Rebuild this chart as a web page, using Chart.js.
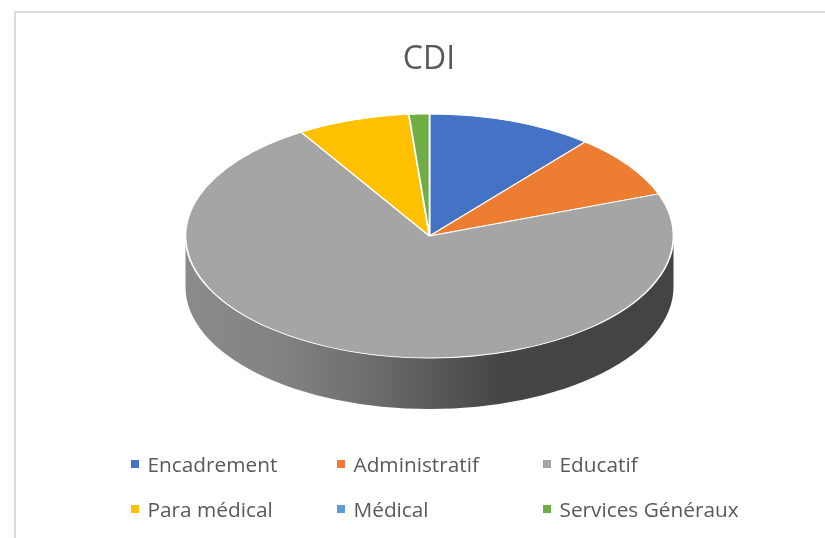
<!DOCTYPE html>
<html lang="fr">
<head>
<meta charset="utf-8">
<title>CDI</title>
<script src="https://cdn.jsdelivr.net/npm/chart.js@4"></script>
<style>
    html, body { margin: 0; padding: 0; background: #fff; }
    #cadre { position: relative; width: 825px; height: 538px; overflow: hidden; }
    #cadre canvas { position: absolute; left: 0; top: 0; }
    #bord { position: absolute; left: 14px; top: 11px; right: -4px; bottom: -4px; border: 2px solid #dcdcdc; }
    #legende {
        position: absolute; left: 131px; top: 441px;
        display: grid; grid-template-columns: repeat(3, 206px); grid-auto-rows: 45px;
        font: 20.8px "Open Sans", sans-serif; color: #595959; white-space: nowrap;
    }
    .item { display: flex; align-items: center; height: 45px; }
    .carre { width: 8px; height: 8px; margin-right: 8.5px; flex: none; }
</style>
</head>
<body>
<div id="cadre">
    <div id="bord"></div>
    <canvas id="chartCdi" width="825" height="538"></canvas>
    <div id="legende"></div>
</div>
<script>
const titre = 'CDI';
const categories = ['Encadrement', 'Administratif', 'Educatif', 'Para médical', 'Médical', 'Services Généraux'];
const valeurs = [11.0, 8.4, 71.8, 7.45, 0, 1.35];
const couleurs = ['#4472C4', '#ED7D31', '#A5A5A5', '#FFC000', '#5B9BD5', '#70AD47'];

// ellipse du dessus et epaisseur du camembert
const cx = 429.5, cy = 236, rx = 244, ry = 122, epaisseur = 51;

// ombrage du bord, de gauche a droite
const ombrage = [[0, 0.84], [0.2, 0.79], [0.38, 0.66], [0.55, 0.5], [0.65, 0.42], [1, 0.41]];

function assombrir(hex, f) {
    const n = parseInt(hex.slice(1), 16);
    const r = Math.round((n >> 16 & 255) * f);
    const g = Math.round((n >> 8 & 255) * f);
    const b = Math.round((n & 255) * f);
    return `rgb(${r},${g},${b})`;
}

const pie3d = {
    id: 'pie3d',
    beforeDatasetsDraw(chart) {
        const ctx = chart.ctx;
        const arcs = chart.getDatasetMeta(0).data;
        arcs.forEach((arc, i) => {
            const debut = Math.max(arc.startAngle, 0);
            const fin = Math.min(arc.endAngle, Math.PI);
            if (fin <= debut) return;
            const grad = ctx.createLinearGradient(cx - rx, 0, cx + rx, 0);
            ombrage.forEach(([pos, f]) => grad.addColorStop(pos, assombrir(couleurs[i], f)));
            ctx.beginPath();
            ctx.ellipse(cx, cy + epaisseur, rx, ry, 0, debut, fin);
            ctx.ellipse(cx, cy, rx, ry, 0, fin, debut, true);
            ctx.closePath();
            ctx.fillStyle = grad;
            ctx.fill();
        });
        // la tarte plate de Chart.js est ecrasee en ellipse
        const a = arcs[0];
        ctx.save();
        ctx.translate(cx, cy);
        ctx.scale(rx / a.outerRadius, ry / a.outerRadius);
        ctx.translate(-a.x, -a.y);
    },
    afterDatasetsDraw(chart) {
        chart.ctx.restore();
    }
};

new Chart(document.getElementById('chartCdi'), {
    type: 'pie',
    data: {
        labels: categories,
        datasets: [{
            data: valeurs,
            backgroundColor: couleurs,
            borderColor: '#ffffff',
            borderWidth: 1.5
        }]
    },
    options: {
        responsive: false,
        animation: false,
        layout: { padding: { left: 33, top: 8, bottom: 20 } },
        plugins: {
            legend: { display: false },
            tooltip: { enabled: false },
            title: {
                display: true,
                text: titre,
                color: '#595959',
                font: { family: '"Open Sans", sans-serif', size: 32, weight: 'normal' },
                padding: { top: 33, bottom: 10 }
            }
        }
    },
    plugins: [pie3d]
});

const legende = document.getElementById('legende');
categories.forEach((nom, i) => {
    const item = document.createElement('div');
    item.className = 'item';
    const carre = document.createElement('span');
    carre.className = 'carre';
    carre.style.background = couleurs[i];
    const texte = document.createElement('span');
    texte.textContent = nom;
    item.append(carre, texte);
    legende.appendChild(item);
});
</script>
</body>
</html>
